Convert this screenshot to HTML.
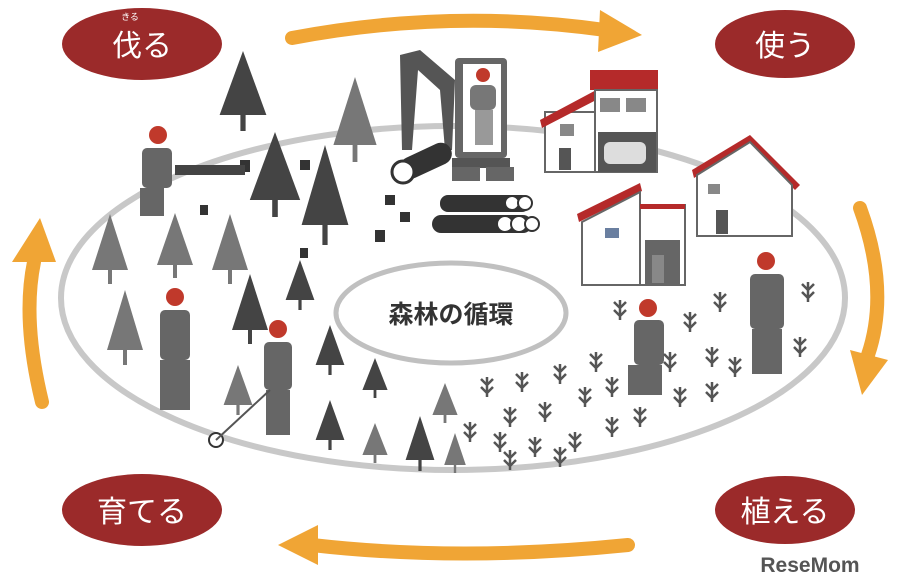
<!DOCTYPE html>
<html><head><meta charset="utf-8"><style>
html,body{margin:0;padding:0;background:#fff;width:905px;height:582px;overflow:hidden}
svg{display:block}
text{font-family:"Liberation Sans","Noto Sans CJK JP",sans-serif}
</style></head><body>
<svg width="905" height="582" viewBox="0 0 905 582" xmlns="http://www.w3.org/2000/svg">
<defs>
<g id="tree"><polygon points="0,-40 -18,0 18,0" /><rect x="-2" y="0" width="4" height="10"/></g>
<g id="sap" stroke="#555" stroke-width="2.5" fill="none"><path d="M0,12 V-8 M-6,-6 L0,0 L6,-6 M-6,2 L0,8 L6,2"/></g>
</defs>
<!-- big ellipse -->
<ellipse cx="453" cy="298" rx="392" ry="172" fill="#fff" stroke="#c8c8c8" stroke-width="6"/>
<ellipse cx="451" cy="313" rx="115" ry="50" fill="#fff" stroke="#c0c0c0" stroke-width="5"/>
<text x="451" y="323" font-size="25" font-weight="bold" text-anchor="middle" fill="#333">森林の循環</text>

<!-- orange arrows -->
<g fill="none" stroke="#f0a535" stroke-width="14" stroke-linecap="round">
<path d="M292,38 Q450,8 605,30"/>
<path d="M860,208 Q890,290 868,355"/>
<path d="M628,545 Q460,562 312,545"/>
<path d="M42,402 Q22,320 34,262"/>
</g>
<g fill="#f0a535">
<polygon points="600,10 642,35 598,52"/>
<polygon points="850,350 888,360 862,395"/>
<polygon points="318,525 278,545 318,565"/>
<polygon points="12,262 40,218 56,262"/>
</g>

<!-- red ovals -->
<g fill="#9b2a2a">
<ellipse cx="142" cy="44" rx="80" ry="36"/>
<ellipse cx="785" cy="44" rx="70" ry="34"/>
<ellipse cx="142" cy="510" rx="80" ry="36"/>
<ellipse cx="785" cy="510" rx="70" ry="34"/>
</g>
<g fill="#fff" font-size="30" text-anchor="middle">
<text x="142" y="56">伐る</text>
<text x="130" y="20" font-size="9">きる</text>
<text x="785" y="56">使う</text>
<text x="142" y="522">育てる</text>
<text x="785" y="522">植える</text>
</g>

<!-- forest trees -->
<g fill="#444">
<use href="#tree" transform="translate(243,115) scale(1.3,1.6)"/>
<use href="#tree" transform="translate(275,200) scale(1.4,1.7)"/>
<use href="#tree" transform="translate(325,225) scale(1.3,2)"/>
<use href="#tree" transform="translate(250,330) scale(1,1.4)"/>
<use href="#tree" transform="translate(330,365) scale(0.8,1)"/>
<use href="#tree" transform="translate(300,300) scale(0.8,1)"/>
<use href="#tree" transform="translate(330,440) scale(0.8,1)"/>
<use href="#tree" transform="translate(420,460) scale(0.8,1.1)"/>
<use href="#tree" transform="translate(375,390) scale(0.7,0.8)"/>
</g>
<g fill="#777">
<use href="#tree" transform="translate(355,145) scale(1.2,1.7)"/>
<use href="#tree" transform="translate(110,270) scale(1,1.4)"/>
<use href="#tree" transform="translate(175,265) scale(1,1.3)"/>
<use href="#tree" transform="translate(230,270) scale(1,1.4)"/>
<use href="#tree" transform="translate(125,350) scale(1,1.5)"/>
<use href="#tree" transform="translate(238,405) scale(0.8,1)"/>
<use href="#tree" transform="translate(375,455) scale(0.7,0.8)"/>
<use href="#tree" transform="translate(445,415) scale(0.7,0.8)"/>
<use href="#tree" transform="translate(455,465) scale(0.6,0.8)"/>
</g>
<!-- stumps -->
<g fill="#333"><rect x="240" y="160" width="10" height="12"/><rect x="300" y="160" width="10" height="10"/><rect x="385" y="195" width="10" height="10"/><rect x="400" y="212" width="10" height="10"/><rect x="375" y="230" width="10" height="12"/><rect x="200" y="205" width="8" height="10"/><rect x="300" y="248" width="8" height="10"/></g>

<!-- excavator -->
<g fill="#555">
<path d="M400,55 L420,50 L455,80 L452,150 L445,150 L440,90 L418,70 L412,150 L402,150 Z"/>
<rect x="455" y="58" width="52" height="100" rx="4" fill="#666"/>
<rect x="463" y="64" width="38" height="88" fill="#fff"/>
<rect x="452" y="158" width="58" height="10" fill="#555"/>
<rect x="452" y="167" width="28" height="14" fill="#666"/><rect x="486" y="167" width="28" height="14" fill="#666"/>
</g>
<circle cx="483" cy="75" r="7" fill="#c0392b"/>
<rect x="470" y="85" width="26" height="25" rx="6" fill="#777"/>
<rect x="475" y="110" width="18" height="35" fill="#999"/>
<rect x="398" y="150" width="55" height="22" rx="11" fill="#333" transform="rotate(-25 425 160)"/>
<circle cx="403" cy="172" r="11" fill="#fff" stroke="#333" stroke-width="3"/>
<g fill="#333"><rect x="440" y="195" width="90" height="17" rx="8"/><rect x="432" y="215" width="100" height="18" rx="9"/></g>
<g fill="#fff" stroke="#333" stroke-width="2"><circle cx="512" cy="203" r="7"/><circle cx="525" cy="203" r="7"/><circle cx="505" cy="224" r="8"/><circle cx="519" cy="224" r="8"/><circle cx="532" cy="224" r="7"/></g>

<!-- houses -->
<g>
<rect x="545" y="112" width="50" height="60" fill="#fff" stroke="#666" stroke-width="2"/>
<polygon points="540,120 600,88 600,98 542,128" fill="#b52a2a"/>
<rect x="590" y="70" width="68" height="20" fill="#b52a2a"/>
<rect x="595" y="90" width="62" height="82" fill="#fff" stroke="#666" stroke-width="2"/>
<rect x="600" y="98" width="20" height="14" fill="#888"/><rect x="626" y="98" width="20" height="14" fill="#888"/>
<rect x="598" y="132" width="58" height="40" fill="#555"/><rect x="604" y="142" width="42" height="22" rx="6" fill="#ddd"/>
<rect x="559" y="148" width="12" height="22" fill="#555"/>
<rect x="560" y="124" width="14" height="12" fill="#888"/>
</g>
<g>
<polygon points="692,170 750,135 752,142 694,178" fill="#b52a2a"/>
<polygon points="750,135 800,185 795,190 750,145" fill="#b52a2a"/>
<polygon points="697,175 750,142 792,185 792,236 697,236" fill="#fff" stroke="#666" stroke-width="2"/>
<rect x="716" y="210" width="12" height="24" fill="#555"/><rect x="708" y="184" width="12" height="10" fill="#888"/>
</g>
<g>
<polygon points="577,214 640,183 642,191 579,222" fill="#b52a2a"/>
<polygon points="582,222 640,192 640,285 582,285" fill="#fff" stroke="#666" stroke-width="2"/>
<rect x="640" y="205" width="45" height="80" fill="#fff" stroke="#666" stroke-width="2"/>
<rect x="640" y="204" width="45" height="5" fill="#b52a2a"/>
<rect x="645" y="240" width="35" height="45" fill="#666"/><rect x="652" y="255" width="12" height="28" fill="#888"/>
<rect x="605" y="228" width="14" height="10" fill="#6a7fa0"/>
</g>

<!-- people -->
<g fill="#666">
<circle cx="158" cy="135" r="9" fill="#c0392b"/><rect x="142" y="148" width="30" height="40" rx="5"/><rect x="140" y="188" width="24" height="28"/>
<rect x="175" y="165" width="70" height="10" fill="#444"/>
<circle cx="175" cy="297" r="9" fill="#c0392b"/><rect x="160" y="310" width="30" height="50" rx="5"/><rect x="160" y="360" width="30" height="50"/>
<circle cx="278" cy="329" r="9" fill="#c0392b"/><rect x="264" y="342" width="28" height="48" rx="5"/><rect x="266" y="390" width="24" height="45"/>
<circle cx="648" cy="308" r="9" fill="#c0392b"/><rect x="634" y="320" width="30" height="45" rx="5"/><rect x="628" y="365" width="34" height="30"/>
<circle cx="766" cy="261" r="9" fill="#c0392b"/><rect x="750" y="274" width="34" height="55" rx="5"/><rect x="752" y="329" width="30" height="45"/>
</g>
<circle cx="216" cy="440" r="7" fill="#fff" stroke="#333" stroke-width="2"/>
<line x1="216" y1="440" x2="270" y2="390" stroke="#555" stroke-width="2"/>

<!-- saplings -->
<g>
<use href="#sap" x="487" y="385"/><use href="#sap" x="522" y="380"/><use href="#sap" x="560" y="372"/><use href="#sap" x="596" y="360"/>
<use href="#sap" x="510" y="415"/><use href="#sap" x="545" y="410"/><use href="#sap" x="585" y="395"/><use href="#sap" x="612" y="385"/>
<use href="#sap" x="470" y="430"/><use href="#sap" x="500" y="440"/><use href="#sap" x="535" y="445"/><use href="#sap" x="575" y="440"/>
<use href="#sap" x="612" y="425"/><use href="#sap" x="640" y="415"/><use href="#sap" x="680" y="395"/><use href="#sap" x="712" y="390"/>
<use href="#sap" x="690" y="320"/><use href="#sap" x="720" y="300"/><use href="#sap" x="808" y="290"/><use href="#sap" x="800" y="345"/>
<use href="#sap" x="712" y="355"/><use href="#sap" x="735" y="365"/><use href="#sap" x="670" y="360"/><use href="#sap" x="620" y="308"/>
<use href="#sap" x="510" y="458"/><use href="#sap" x="560" y="455"/>
</g>

<!-- logo -->
<text x="810" y="572" font-size="21" font-weight="bold" fill="#555" text-anchor="middle">ReseMom</text>
</svg>
</body></html>
